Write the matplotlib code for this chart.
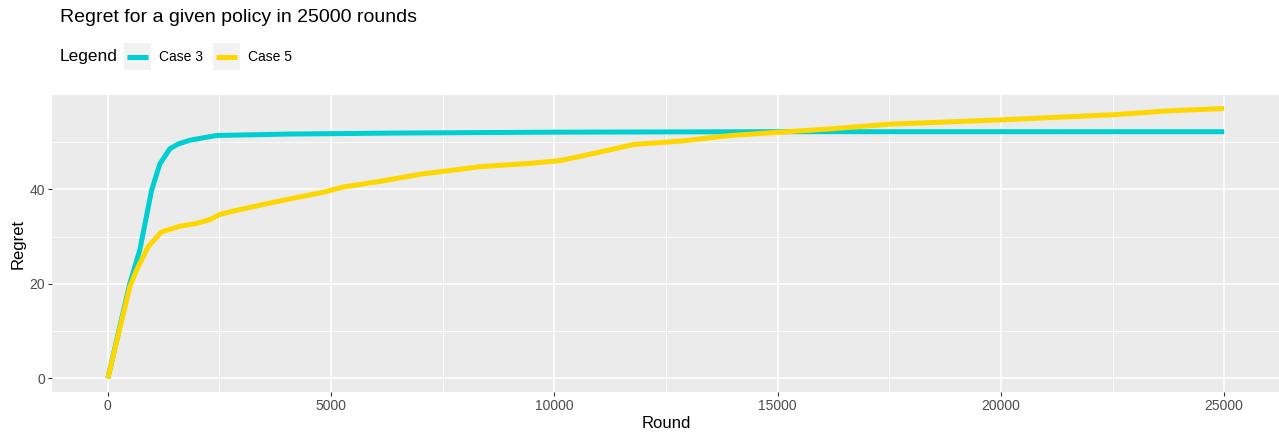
import matplotlib.pyplot as plt
from matplotlib.lines import Line2D
from matplotlib.patches import Rectangle

# values
case3_round = [0, 493, 717, 980, 1166, 1390, 1577, 1838, 2437, 4080, 6323,
               10000, 15000, 20000, 25000]
case3_regret = [0, 20.1, 27.2, 39.8, 45.4, 48.6, 49.6, 50.4, 51.4, 51.7, 51.9,
                52.1, 52.2, 52.2, 52.2]

case5_round = [0, 493, 643, 904, 1203, 1614, 1988, 2287, 2511, 2810, 3333,
               3931, 4828, 5277, 6099, 6996, 8341, 9462, 10135, 10882, 11779,
               12825, 13946, 15067, 16188, 17534, 20000, 22541, 23737, 25000]
case5_regret = [0, 19.4, 22.9, 27.9, 31.0, 32.2, 32.8, 33.6, 34.7, 35.4, 36.5,
                37.7, 39.4, 40.5, 41.7, 43.2, 44.8, 45.5, 46.1, 47.6, 49.5,
                50.2, 51.4, 52.1, 52.8, 53.8, 54.7, 55.8, 56.6, 57.1]

series_names = ["Case 3", "Case 5"]
x_ticks = [0, 5000, 10000, 15000, 20000, 25000]
y_ticks = [0, 20, 40]

c3 = "#00CED1"
c5 = "#FFD700"
grey = "#4D4D4D"
W, H = 1279, 432

plt.rcParams['font.family'] = ['Liberation Sans', 'DejaVu Sans']

fig = plt.figure(figsize=(W / 100, H / 100), dpi=100)
ax = fig.add_axes([52 / W, 1 - 392 / H, 1228 / W, 297 / H])
ax.set_facecolor("#EBEBEB")

ax.plot(case3_round, case3_regret, color=c3, lw=3.6, solid_capstyle="butt", zorder=3)
ax.plot(case5_round, case5_regret, color=c5, lw=3.6, solid_capstyle="butt", zorder=3)

ax.set_xlim(-1250, 26250)
ax.set_ylim(-2.86, 59.96)
ax.set_xticks(x_ticks)
ax.set_yticks(y_ticks)
ax.set_xticks([2500, 7500, 12500, 17500, 22500], minor=True)
ax.set_yticks([10, 30, 50], minor=True)
ax.grid(True, which="major", color="white", lw=1.1)
ax.grid(True, which="minor", color="white", lw=0.55)
ax.set_axisbelow(True)
for s in ax.spines.values():
    s.set_visible(False)
ax.tick_params(which="major", length=3, color="#333333", labelcolor=grey,
               labelsize=10, pad=2)
ax.tick_params(which="minor", length=0)

ax.set_xlabel("Round", fontsize=12, labelpad=2)
ax.set_ylabel("Regret", fontsize=12, labelpad=3)

fig.text(60 / W, 1 - 18 / H, "Regret for a given policy in 25000 rounds",
         fontsize=14, va="center", ha="left")
fig.text(60 / W, 1 - 57 / H, "Legend", fontsize=12.5, va="center", ha="left")

# legend keys drawn ggplot-style: grey key box, thick line, label
for x0, col, name in [(124, c3, series_names[0]), (213, c5, series_names[1])]:
    fig.add_artist(Rectangle((x0 / W, 1 - 70 / H), 27 / W, 27 / H,
                             transform=fig.transFigure, facecolor="#F2F2F2",
                             edgecolor="none"))
    fig.add_artist(Line2D([(x0 + 3) / W, (x0 + 24) / W], [1 - 57 / H, 1 - 57 / H],
                          transform=fig.transFigure, color=col, lw=3.6,
                          solid_capstyle="butt"))
    fig.text((x0 + 35) / W, 1 - 57 / H, name, fontsize=10, va="center", ha="left")

fig.savefig("out.png", dpi=100)
